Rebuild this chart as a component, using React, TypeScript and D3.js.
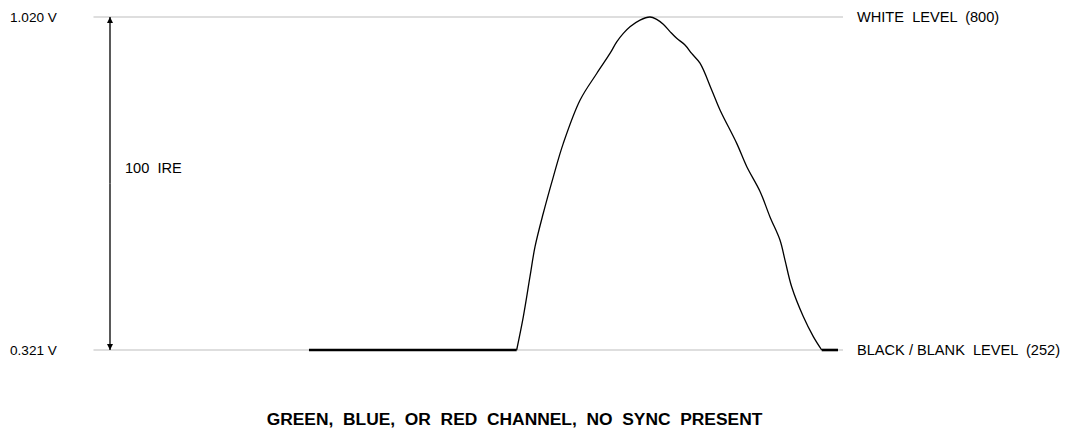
import React from "react";
import * as d3 from "d3";

// Signal levels (code values)
const levelCodes = [252, 800];
const levelVolts = ["0.321 V", "1.020 V"];
const levelNames = ["BLACK / BLANK  LEVEL  (252)", "WHITE  LEVEL  (800)"];

// Waveform: horizontal position (% of line span) and code value
const waveX = [28.75, 56.46, 57.35, 58.24, 58.91, 60.01, 61.35, 62.68, 64.91, 67.14, 68.91, 69.81, 70.69, 71.58, 72.92, 74.25, 75.14, 76.02, 76.92, 77.81, 78.92, 79.81, 80.92, 82.48, 83.59, 85.82, 87.15, 88.93, 90.26, 91.59, 92.26, 93.15, 94.7, 96.04, 97.16, 99.33];
const waveY = [252, 252, 307, 373, 422, 477, 537, 592, 663, 707, 740, 759, 773, 784, 795, 800, 796, 788, 776, 765, 754, 740, 724, 680, 647, 592, 554, 513, 471, 433, 400, 356, 307, 274, 252, 252];

const ireLabel = "100  IRE";
const title = "GREEN,  BLUE,  OR  RED  CHANNEL,  NO  SYNC  PRESENT";

const W = 1072;
const H = 432;

export default function App() {
  const x = d3.scaleLinear().domain([0, 100]).range([93.5, 843]);
  const y = d3.scaleLinear().domain([252, 800]).range([350, 17]);

  const pts = waveX.map((v, i) => [v, waveY[i]] as [number, number]);
  const n = pts.length;
  const line = d3.line<[number, number]>().x((d) => x(d[0])).y((d) => y(d[1])).curve(d3.curveCatmullRom.alpha(0.5));
  const curvePath = line(pts.slice(1, n - 1)) || "";
  const flatStart = d3.line<[number, number]>().x((d) => x(d[0])).y((d) => y(d[1]))(pts.slice(0, 2)) || "";
  const flatEnd = d3.line<[number, number]>().x((d) => x(d[0])).y((d) => y(d[1]))(pts.slice(n - 2)) || "";

  const arrowX = 110;
  const font = "'Liberation Sans', Arial, Helvetica, sans-serif";
  const fsV = 13.6;
  const fs = 14.6;

  return (
    <svg width={W} height={H} style={{ position: "absolute", left: 0, top: 0, background: "#fff" }}>
      <defs>
        <marker id="ah" viewBox="0 0 10 10" refX="10" refY="5" markerWidth="6" markerHeight="14" markerUnits="userSpaceOnUse" orient="auto">
          <path d="M0,0 L10,5 L0,10 Z" fill="#000" />
        </marker>
      </defs>
      {levelCodes.map((c, i) => (
        <g key={c}>
          <line x1={x(0)} x2={x(100)} y1={y(c)} y2={y(c)} stroke="#bdbdbd" strokeWidth={1.2} />
          <text x={10} y={y(c)} dy="0.35em" fontFamily={font} fontSize={fsV} fill="#000" xmlSpace="preserve">{levelVolts[i]}</text>
          <text x={857} y={y(c)} dy="0.35em" fontFamily={font} fontSize={fs} fill="#000" xmlSpace="preserve">{levelNames[i]}</text>
        </g>
      ))}
      <line x1={arrowX} x2={arrowX} y1={y(526)} y2={y(800)} stroke="#000" strokeWidth={1.3} markerEnd="url(#ah)" />
      <line x1={arrowX} x2={arrowX} y1={y(526)} y2={y(252)} stroke="#000" strokeWidth={1.3} markerEnd="url(#ah)" />
      <text x={125} y={168} dy="0.35em" fontFamily={font} fontSize={fs} fill="#000" xmlSpace="preserve">{ireLabel}</text>
      <path d={flatStart} stroke="#000" strokeWidth={2.6} fill="none" />
      <path d={flatEnd} stroke="#000" strokeWidth={2.6} fill="none" />
      <path d={curvePath} stroke="#000" strokeWidth={1.3} fill="none" strokeLinejoin="round" />
      <text x={514.5} y={425} textAnchor="middle" fontFamily={font} fontSize={17.4} fontWeight="bold" fill="#000" xmlSpace="preserve">{title}</text>
    </svg>
  );
}
